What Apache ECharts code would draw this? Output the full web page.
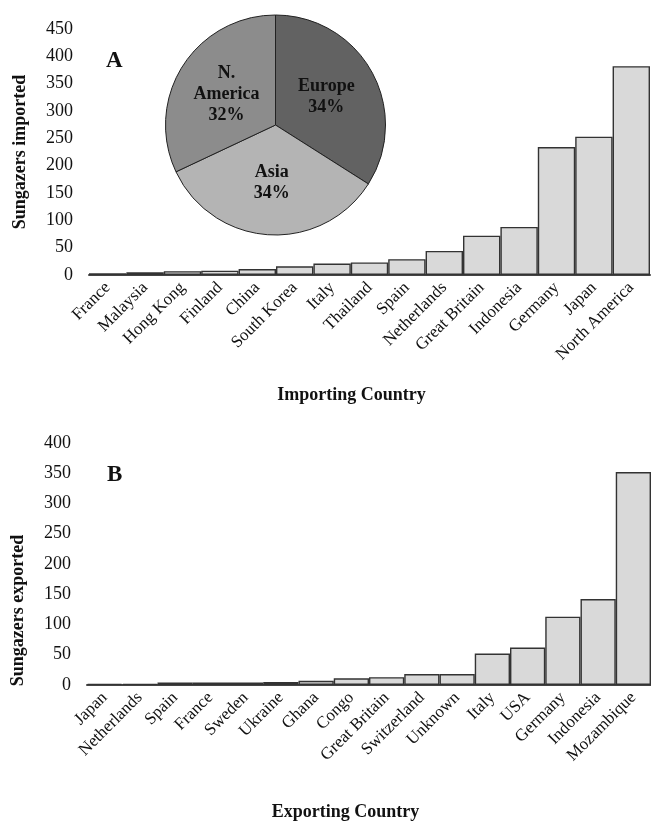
<!DOCTYPE html>
<html>
<head>
<meta charset="utf-8">
<script src="https://cdn.jsdelivr.net/npm/echarts@6/dist/echarts.min.js"></script>
<style>
html,body{margin:0;padding:0;background:#fff;}
#chart{width:651px;height:822px;}
</style>
</head>
<body>
<div id="chart"></div>
<script>
// ---- Data ----
const importCountries = ['France','Malaysia','Hong Kong','Finland','China','South Korea','Italy','Thailand','Spain','Netherlands','Great Britain','Indonesia','Germany','Japan','North America'];
const importValues = [3,5,7,8,11,16,21,23,29,44,72,88,234,253,382];

const exportCountries = ['Japan','Netherlands','Spain','France','Sweden','Ukraine','Ghana','Congo','Great Britain','Switzerland','Unknown','Italy','USA','Germany','Indonesia','Mozambique'];
const exportValues = [2,2,4,4,4,5,7,11,13,18,18,52,62,113,142,352];

const regionNames = ['Europe','Asia','N. America'];
const regionShares = [34,34,32];
const regionColors = ['#626262','#b4b4b4','#8c8c8c'];

const yTicksA = {min:0, max:450, interval:50};
const yTicksB = {min:0, max:400, interval:50};

// ---- Styles ----
const FONT = 'Liberation Serif';
const xLabelStyle = {fontFamily: FONT, fontSize: 17, color: '#111'};
const yLabelStyle = {fontFamily: FONT, fontSize: 18, color: '#111'};
const titleStyle = {fontFamily: FONT, fontSize: 18, fontWeight: 'bold', color: '#111'};
const barStyle = {color: '#d9d9d9', borderColor: '#333', borderWidth: 1.4};

function xAxisCfg(gridIndex, data, name, gap, padRight){
  return {
    type: 'category', gridIndex, data,
    name, nameLocation: 'middle', nameGap: gap,
    nameTextStyle: Object.assign({padding:[0,padRight,0,0]}, titleStyle),
    axisLine: {show: true, lineStyle: {color: '#444', width: 2}},
    axisTick: {show: false},
    axisLabel: Object.assign({rotate: 45, margin: 10, interval: 0}, xLabelStyle),
    splitLine: {show: false}
  };
}
function yAxisCfg(gridIndex, ticks, name, padRight){
  return {
    type: 'value', gridIndex,
    min: ticks.min, max: ticks.max, interval: ticks.interval,
    name, nameLocation: 'middle', nameGap: 60,
    nameTextStyle: Object.assign({padding:[0,padRight,0,0]}, titleStyle),
    axisLine: {show: false}, axisTick: {show: false},
    splitLine: {show: false},
    axisLabel: Object.assign({margin: 16}, yLabelStyle)
  };
}

const chart = echarts.init(document.getElementById('chart'), null, {renderer: 'canvas'});
chart.setOption({
  backgroundColor: '#fff',
  animation: false,
  grid: [
    {left: 89, right: 1, top: 29, bottom: 547},
    {left: 87, right: 0, top: 443, bottom: 133.5}
  ],
  xAxis: [
    xAxisCfg(0, importCountries, 'Importing Country', 111, 36),
    xAxisCfg(1, exportCountries, 'Exporting Country', 118, 47)
  ],
  yAxis: [
    yAxisCfg(0, yTicksA, 'Sungazers imported', 0),
    yAxisCfg(1, yTicksB, 'Sungazers exported', 93)
  ],
  graphic: [
    {type: 'text', left: 106, top: 50, style: {text: 'A', font: 'bold 23px "Liberation Serif"', fill: '#111'}},
    {type: 'text', left: 107, top: 464, style: {text: 'B', font: 'bold 23px "Liberation Serif"', fill: '#111'}}
  ],
  series: [
    {type: 'bar', xAxisIndex: 0, yAxisIndex: 0, data: importValues, barCategoryGap: '0%', itemStyle: barStyle, z: 2},
    {type: 'bar', xAxisIndex: 1, yAxisIndex: 1, data: exportValues, barCategoryGap: '0%', itemStyle: barStyle, z: 2},
    {
      type: 'pie', center: [275.5, 125], radius: 110, startAngle: 90, clockwise: true,
      z: 5, silent: true,
      data: regionNames.map((n, i) => ({name: n, value: regionShares[i], itemStyle: {color: regionColors[i]}})),
      itemStyle: {borderColor: '#222', borderWidth: 1},
      label: {
        show: true, position: 'inside',
        fontFamily: FONT, fontSize: 18, fontWeight: 'bold', color: '#111', lineHeight: 21,
        formatter: p => p.name.replace('N. ', 'N.\n') + '\n' + p.value + '%'
      },
      labelLine: {show: false}
    }
  ]
});
</script>
</body>
</html>
